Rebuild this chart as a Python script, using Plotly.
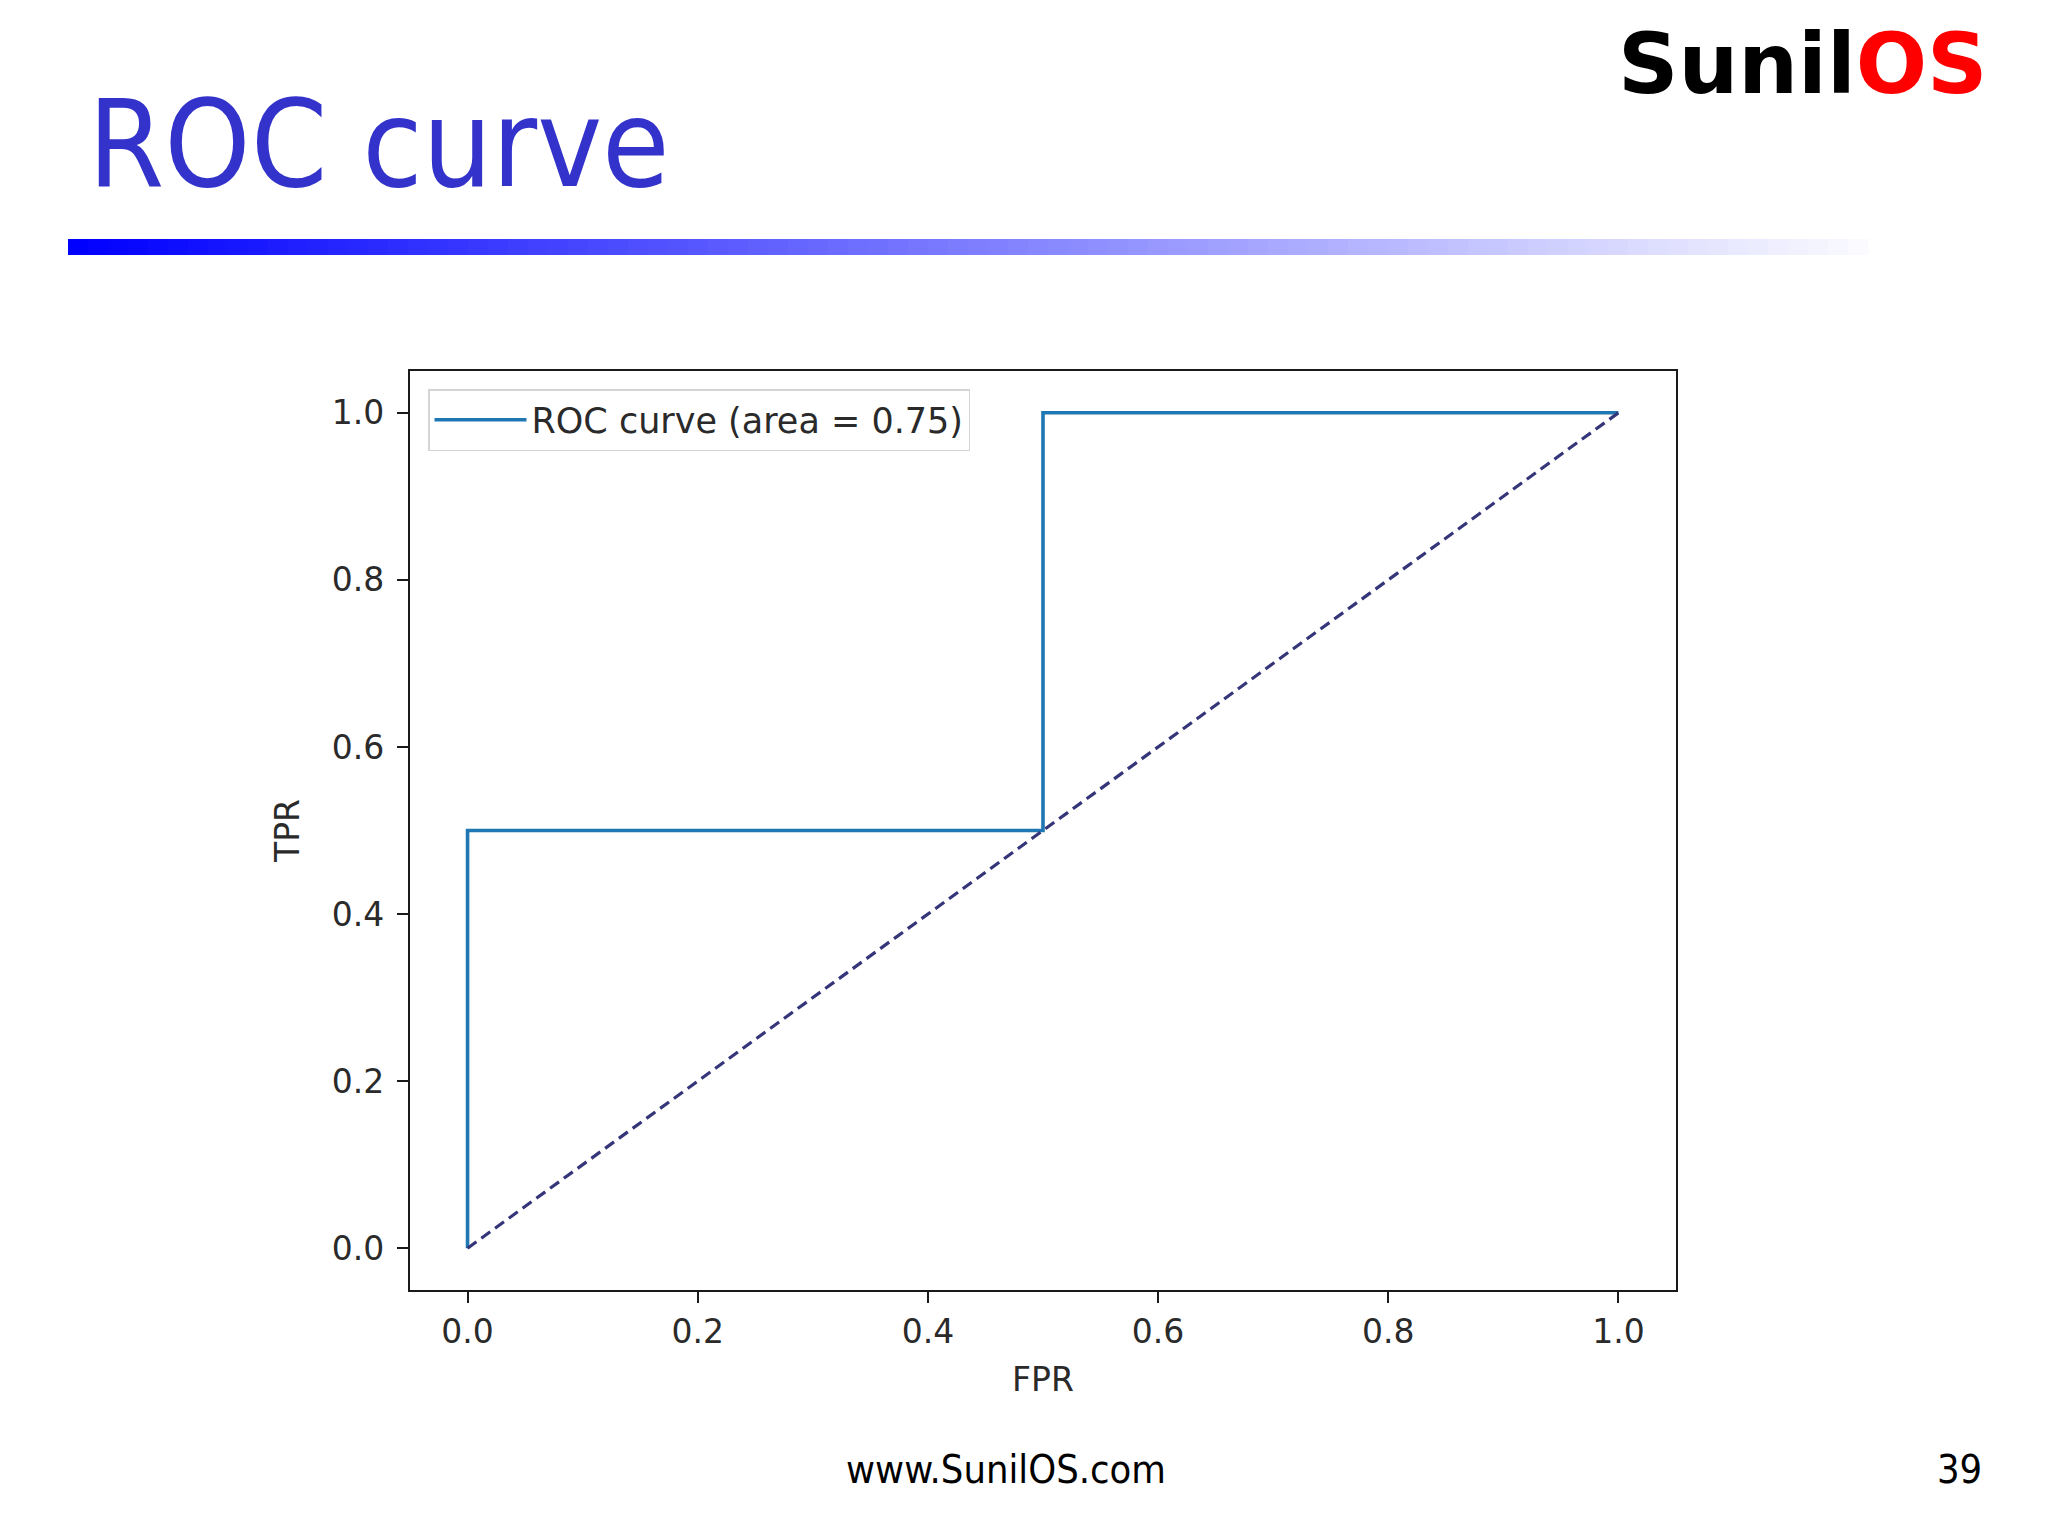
import plotly.graph_objects as go

# ---- data ----
fpr = [0.0, 0.0, 0.5, 0.5, 1.0]
tpr = [0.0, 0.5, 0.5, 1.0, 1.0]
diag_x = [0.0, 1.0]
diag_y = [0.0, 1.0]
roc_auc = 0.75
tick_vals = [0.0, 0.2, 0.4, 0.6, 0.8, 1.0]
tick_text = ["0.0", "0.2", "0.4", "0.6", "0.8", "1.0"]

W, H = 2048, 1536
def px(x):
    return x / W
def py(y):
    return 1 - y / H

fig = go.Figure()
fig.add_trace(go.Scatter(
    x=fpr, y=tpr, mode="lines",
    line=dict(color="#1f77b4", width=3.6),
    name=f"ROC curve (area = {roc_auc:.2f})",
))
fig.add_trace(go.Scatter(
    x=diag_x, y=diag_y, mode="lines",
    line=dict(color="#35357a", width=3.2, dash="11px,6px"),
    showlegend=False,
))

axis_font = dict(family="DejaVu Sans", size=33, color="#2a2a2a")
common = dict(
    range=[-0.05, 1.05], tickvals=tick_vals, ticktext=tick_text,
    showgrid=False, zeroline=False, showline=True, mirror=True,
    linecolor="#1a1a1a", linewidth=2.2, ticks="outside", ticklen=11,
    tickwidth=2, tickcolor="#1a1a1a", tickfont=axis_font,
)
fig.update_xaxes(**common, domain=[px(410), px(1676)],
                 title=dict(text="FPR", font=axis_font, standoff=18))
fig.update_yaxes(**common, domain=[py(1290), py(371)], ticklabelstandoff=6,
                 title=dict(text="TPR", font=axis_font, standoff=22))

# gradient rule under title
shapes = []
n = 90
x0, x1 = 68, 1868
for i in range(n):
    t = i / (n - 1)
    r = int(round(250 * t))
    g = int(round(250 * t))
    col = f"rgb({r},{g},255)"
    shapes.append(dict(
        type="rect", xref="paper", yref="paper",
        x0=px(x0 + (x1 - x0) * i / n), x1=px(x0 + (x1 - x0) * (i + 1) / n + 0.5),
        y0=py(255), y1=py(239), fillcolor=col, line=dict(width=0), layer="above",
    ))

annotations = [
    dict(text="ROC curve", xref="paper", yref="paper", x=px(86), y=py(144),
         xanchor="left", yanchor="middle", showarrow=False,
         font=dict(family="DejaVu Sans Condensed, DejaVu Sans", size=122, color="#3333cc")),
    dict(text="<b>Sunil<span style='color:#ff0000'>OS</span></b>",
         xref="paper", yref="paper", x=px(1990), y=py(64),
         xanchor="right", yanchor="middle", showarrow=False,
         font=dict(family="DejaVu Sans", size=84, color="#000000")),
    dict(text="www.SunilOS.com", xref="paper", yref="paper", x=px(1006), y=py(1469),
         xanchor="center", yanchor="middle", showarrow=False,
         font=dict(family="DejaVu Sans Condensed, DejaVu Sans", size=39.5, color="#000000")),
    dict(text="39", xref="paper", yref="paper", x=px(1984), y=py(1469),
         xanchor="right", yanchor="middle", showarrow=False,
         font=dict(family="DejaVu Sans Condensed, DejaVu Sans", size=39.5, color="#000000")),
]

fig.update_layout(
    width=W, height=H, autosize=False,
    margin=dict(l=0, r=0, t=0, b=0),
    paper_bgcolor="white", plot_bgcolor="white",
    shapes=shapes, annotations=annotations,
    legend=dict(
        x=px(428), y=py(389), xanchor="left", yanchor="top",
        xref="paper", yref="paper",
        bgcolor="rgba(255,255,255,0.9)", bordercolor="#d4d4d4", borderwidth=1.5,
        font=dict(family="DejaVu Sans", size=35, color="#2a2a2a"),
        itemwidth=92,
    ),
    showlegend=True,
)

fig.write_html("out.html", config={"displayModeBar": False},
               post_script="document.body.style.margin='0';")
